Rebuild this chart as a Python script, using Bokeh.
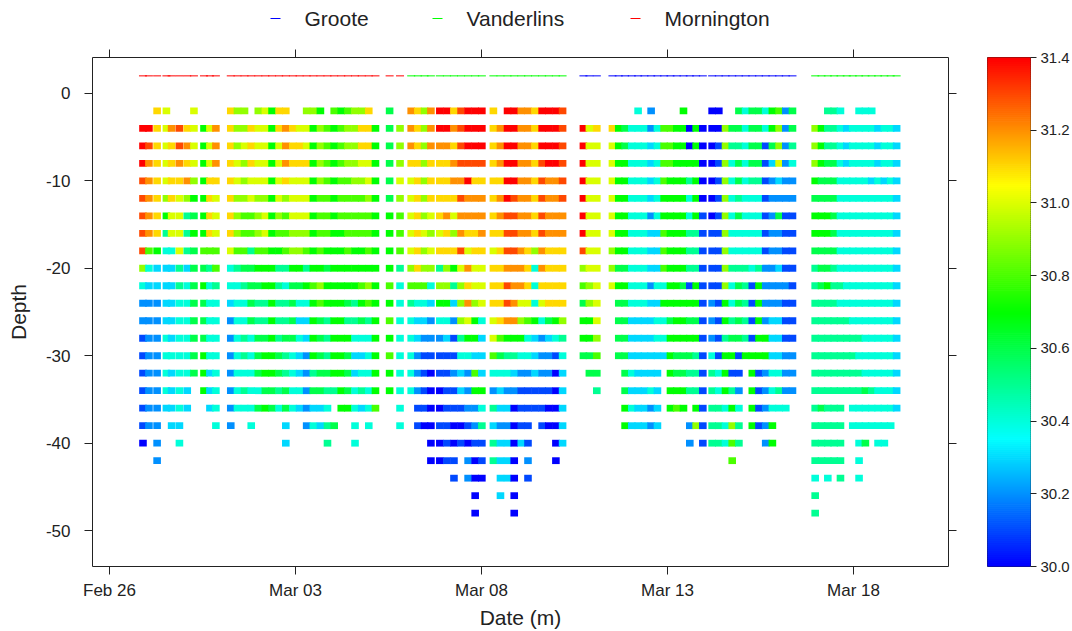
import numpy as np
from bokeh.plotting import figure
from bokeh.layouts import row, column
from bokeh.core.properties import value
from bokeh.models import (ColumnDataSource, LinearAxis, FixedTicker,
                          LinearColorMapper, PrintfTickFormatter, Range1d)
from bokeh.embed import file_html
from bokeh.resources import INLINE

# Sampled depths (m); every profile code below lists its readings from the top of this list down
depth_levels = [-2, -4, -6, -8, -10, -12, -14, -16, -18, -20, -22, -24,
                -26, -28, -30, -32, -34, -36, -38, -40, -42, -44, -46, -48]

# Temperature codes: each character is tenths of a degree above 30.0 degC,
# '.' marks a depth with no reading, spaces only group the depths in fours.
temp_digits = "0123456789abcde"
temp_base = 30.0
temp_step = 0.1

# Leg 1 - Mornington; profile times in days after 26 Feb 00:00
mornington_days = [0.90, 1.06, 1.28, 1.53, 1.67, 1.88, 2.09, 2.27, 2.54, 2.70, 2.86,
                   3.26, 3.44, 3.63, 3.81, 4.00, 4.19, 4.37, 4.56, 4.74, 4.93, 5.11,
                   5.30, 5.48, 5.67, 5.86, 6.04, 6.23, 6.41, 6.60, 6.78, 6.97, 7.15,
                   7.53, 7.81]
mornington_codes = [
    ".eee dddd d942 2111 1110", ".edc cccc 8432 2222 222", "bbbb bbbb 7332 2222 2222 2",
    "aaaa a975 4333 3444 43", ".cbb bbaa 4333 3343 333", ".ddc baaa a554 4444 4434",
    ".bcb c955 5344 4444 33", "aaaa 9767 6666 6666",
    ".777 7777 8676 6677 7", ".aaa bbbb 8544 4443 33", ".ccc baaa 8854 4444 444",
    "bbbb bbbb a443 2222 222", "999a a999 8544 4444 44", "99a9 9988 8654 4554 54",
    ".bbb aa88 5666 6444 444", "9aaa a999 8765 5666 46", "aaaa a9aa 8775 5677 67",
    "7777 7777 7777 7777 66", "bbaa aa98 7555 5566 54", "bccc b988 8545 5655 6633",
    ".bbb aaa9 9766 6644 44", ".abb aaa9 9764 3433 43", "9aab aaa9 8574 3322 222",
    "9777 7777 7787 7775 634", "7999 9888 8798 6666 633", ".888 8888 7677 5556 5455",
    "8777 7777 7777 7777 5.6", "7888 8887 7777 7777 77", "8999 8888 8776 5766 67",
    "9999 9888 7775 5433 4444", "9bba 9888 7787 6434 53", "bbba a988 8798 5444 444",
    ".777 7777 7777 7777 78",
    "6666 6677 7787 8787 7", ".999 a988 8544 4444 444",
]

# Leg 2 - Vanderlins
vanderlins_days = [8.11, 8.29, 8.47, 8.64, 8.88, 9.07, 9.26, 9.45, 9.64, 9.83, 10.01,
                   10.32, 10.51, 10.70, 10.88, 11.07, 11.25, 11.44, 11.63, 11.81, 12.00, 12.18]
vanderlins_codes = [
    "cccb aaaa a985 4444 4", "bbbb bbbb bb84 3322 211", "9999 999a 9984 3211 110",
    "cccb bba9 a943 2210 0000 0", "eecb bbba b597 4211 0010 0", "eecb bbcb b997 4311 1111 1",
    "bcbc cba9 b753 2112 1100 11", "dddd cdcc da99 9543 3101", "eeed eccb acbc a742 2210 22",
    "eeed bccb baa9 7738 7221 0000", "eeed bccc baaa 4333 7451 10",
    "bbbb bbbb abbb aa84 2535 5", ".ccc bccb bbbb b864 3323 333", "eeee eedd dcdd c754 2323 33",
    "eeee eddd dccc c753 2000 0000", "cccc cccc ccca 9742 1113", "cccc cccc bbba 8442 1111 21",
    "bbbb bbbb 9444 7333 11", "eeed dddd ccba 4222 111", "eeee cccc bbbb 6322 100",
    "eeee cccc bbbb 7410 0000 0", "dddd ddcc bbbb 9543 3333",
]

# Leg 3 - Groote
groote_days = [12.74, 12.90, 13.10,
               13.52, 13.69, 13.86, 14.04, 14.21, 14.38, 14.56, 14.73, 14.91, 15.08,
               15.25, 15.43, 15.60, 15.77, 15.95,
               16.20, 16.38, 16.56, 16.74, 16.92, 17.10, 17.28, 17.46, 17.64, 17.82,
               18.00, 18.18, 18.36]
groote_codes = [
    ".eee eeee d986 776", ".aaa aaaa aa99 7766", ".baa aaaa aaaa a986 5",
    ".baa aaaa 99a", ".777 7777 7676 666", ".667 7777 7676 6666 677",
    ".444 4444 4444 3334 343", "4444 4444 4444 3333 333", ".444 4444 4444 3333 333",
    "2233 3323 3323 3333 422", ".444 4443 3343 4433 333", ".888 8778 8847 443",
    ".888 7777 7777 6777 77", ".777 7777 7777 7766 78", "7777 7777 7767 7766 77",
    ".007 5445 5517 6765 5.22", ".777 7775 5577 6755 579", ".000 0011 1111 1111 1111",
    "0000 0001 1112 2245 5555", "0011 1111 1111 1114 4555", ".999 9999 9997 7577 7444",
    ".654 4444 4544 5671 5798 8", "6656 6564 4566 6611 2455", "4444 4444 4555 557",
    "6666 5444 4411 1177 777", "6666 5444 4577 7771 111", "4411 1111 1222 2772 2222",
    "7763 2222 2222 3334 4477", "899a 3262 2322 3334 54", "2222 2211 1121 1122 24",
    "6654 2211 1111 1122 2",
]

# Leg 4 - Vanderlins again
vanderlins2_days = [18.97, 19.14, 19.31, 19.48, 19.65, 19.82, 19.98, 20.15, 20.32,
                    20.49, 20.66, 20.83, 21.00, 21.16]
vanderlins2_codes = [
    ".999 7677 6555 5555 5555 5455", ".777 6677 6665 5555 5655 5",
    "5556 6677 6675 5555 5555 54", "5556 6666 6555 5555 5555 5",
    "4444 4444 4454 5555 5555 55", ".333 4444 4444 5555 5",
    ".444 4444 4444 4555 544", "4444 4444 4444 4545 5444 44",
    "4444 4444 4444 4444 6446", "4444 3444 4444 4444 544",
    ".333 4444 4444 4444 4444", ".444 3444 4444 4444 4444",
    ".444 4444 4444 4444 444", ".333 3333 3333 3333 33",
]

legs = [
    (mornington_days, mornington_codes, "Mornington"),
    (vanderlins_days, vanderlins_codes, "Vanderlins"),
    (groote_days, groote_codes, "Groote"),
    (vanderlins2_days, vanderlins2_codes, "Vanderlins"),
]

site_colors = {"Groote": "#0000FF", "Vanderlins": "#00FF00", "Mornington": "#FF0000"}
legend_sites = ["Groote", "Vanderlins", "Mornington"]
site_marker_depth = 2

date_ticks = [0, 5, 10, 15, 20]
date_tick_labels = ["Feb 26", "Mar 03", "Mar 08", "Mar 13", "Mar 18"]
depth_ticks = [0, -10, -20, -30, -40, -50]
depth_tick_labels = ["0", "-10", "-20", "-30", "-40", "-50"]
temp_ticks = [30.0, 30.2, 30.4, 30.6, 30.8, 31.0, 31.2, 31.4]
temp_low, temp_high = 30.0, 31.4

# ---- unpack the profile codes into one cell per reading ----
cell_x, cell_y, cell_t = [], [], []
site_x = {s: [] for s in legend_sites}
for days, codes, site in legs:
    for day, code in zip(days, codes):
        readings = code.replace(" ", "")
        for depth, ch in zip(depth_levels, readings):
            if ch == ".":
                continue
            cell_x.append(day)
            cell_y.append(depth)
            cell_t.append(temp_base + temp_step * temp_digits.index(ch))
        site_x[site].append(day)

cells = ColumnDataSource(dict(x=cell_x, y=cell_y, temp=cell_t))


def rainbow(n):
    stops = [(0, 0, 255), (0, 255, 255), (0, 255, 0), (255, 255, 0), (255, 0, 0)]
    out = []
    for i in range(n):
        f = i / (n - 1) * (len(stops) - 1)
        k = min(int(f), len(stops) - 2)
        u = f - k
        a, b = stops[k], stops[k + 1]
        rgb = [round(a[j] + (b[j] - a[j]) * u) for j in range(3)]
        out.append("#%02x%02x%02x" % tuple(rgb))
    return out


palette = rainbow(256)
mapper = LinearColorMapper(palette=palette, low=temp_low, high=temp_high)

FONT = "Liberation Sans"
INK = "#222222"


def style_axis(ax, show_labels, size="17px"):
    ax.axis_line_color = None
    ax.major_tick_line_color = INK
    ax.major_tick_out = 8
    ax.major_tick_in = 0
    ax.minor_tick_line_color = None
    ax.major_label_text_font = FONT
    ax.major_label_text_color = INK
    ax.major_label_text_font_size = size
    if not show_labels:
        ax.major_label_text_alpha = 0


# ---------------- key strip along the top ----------------
strip_h = 44
strip = figure(width=1072, height=strip_h, output_backend="svg", toolbar_location=None,
               x_range=Range1d(0, 1072), y_range=Range1d(0, strip_h),
               x_axis_type=None, y_axis_type=None, min_border=0)
strip.outline_line_color = None
strip.grid.visible = False
legend_dash_x = [275, 437, 635]
legend_text_x = [304, 466, 664]
legend_y = strip_h - 18
strip.scatter(x=legend_dash_x, y=[legend_y] * 3, marker="dash", size=10, line_width=1,
              line_color=[site_colors[s] for s in legend_sites])
strip.text(x=legend_text_x, y=[legend_y] * 3, text=legend_sites,
           text_font=value(FONT), text_font_size="21px", text_color=INK,
           text_baseline="middle", text_align="left")

# ---------------- main panel ----------------
main_h = 631 - strip_h
p = figure(width=960, height=main_h, output_backend="svg", toolbar_location=None,
           x_range=Range1d(-0.457, 22.554), y_range=Range1d(-54.1, 4.1),
           x_axis_type=None, y_axis_type=None,
           min_border_left=92, min_border_right=12, min_border_top=56 - strip_h,
           min_border_bottom=64)
p.outline_line_color = INK
p.outline_line_width = 1
p.border_fill_color = "white"

p.rect(x="x", y="y", width=7.6, height=6.8, width_units="screen", height_units="screen",
       source=cells, fill_color={"field": "temp", "transform": mapper}, line_color=None)

for site in legend_sites:
    src = ColumnDataSource(dict(x=site_x[site], y=[site_marker_depth] * len(site_x[site])))
    p.scatter(x="x", y="y", source=src, marker="dash", size=8,
              line_color=site_colors[site], line_width=1)

x_ticker = FixedTicker(ticks=date_ticks)
y_ticker = FixedTicker(ticks=depth_ticks)

bottom = LinearAxis(ticker=x_ticker, axis_label="Date (m)")
bottom.major_label_overrides = dict(zip(date_ticks, date_tick_labels))
style_axis(bottom, True)
bottom.major_label_standoff = 6
bottom.axis_label_standoff = 3
bottom.axis_label_text_font = FONT
bottom.axis_label_text_font_style = "normal"
bottom.axis_label_text_font_size = "21px"
bottom.axis_label_text_color = INK
p.add_layout(bottom, "below")

left = LinearAxis(ticker=y_ticker, axis_label="Depth")
left.major_label_overrides = dict(zip(depth_ticks, depth_tick_labels))
style_axis(left, True)
left.major_label_standoff = 14
left.axis_label_standoff = 13
left.axis_label_text_font = FONT
left.axis_label_text_font_style = "normal"
left.axis_label_text_font_size = "21px"
left.axis_label_text_color = INK
p.add_layout(left, "left")

# tick marks only along the top and right edges of the frame
top = LinearAxis(ticker=x_ticker)
top.major_label_overrides = {t: " " for t in date_ticks}
style_axis(top, False, "2px")
top.major_label_standoff = 0
p.add_layout(top, "above")

right = LinearAxis(ticker=y_ticker)
right.major_label_overrides = {t: " " for t in depth_ticks}
style_axis(right, False, "2px")
right.major_label_standoff = 0
p.add_layout(right, "right")

# ---------------- colour key ----------------
n = len(palette)
edges = [temp_low + (temp_high - temp_low) * i / n for i in range(n + 1)]
key = figure(width=112, height=main_h, output_backend="svg", toolbar_location=None,
             x_range=Range1d(0, 1), y_range=Range1d(temp_low, temp_high),
             x_axis_type=None, y_axis_type=None,
             min_border_left=27, min_border_right=39, min_border_top=57 - strip_h,
             min_border_bottom=64)
key.quad(left=0, right=1, bottom=edges[:-1], top=edges[1:], fill_color=palette,
         line_color=palette, line_width=1)
key.outline_line_color = INK
key.outline_line_width = 1
key.border_fill_color = "white"
key_axis = LinearAxis(ticker=FixedTicker(ticks=temp_ticks),
                      formatter=PrintfTickFormatter(format="%.1f"))
style_axis(key_axis, True, "15px")
key_axis.major_tick_out = 6
key_axis.major_label_standoff = 4
key.add_layout(key_axis, "right")

layout = column(strip, row(p, key, spacing=0), spacing=0)
open("out.html", "w").write(file_html(layout, INLINE))
